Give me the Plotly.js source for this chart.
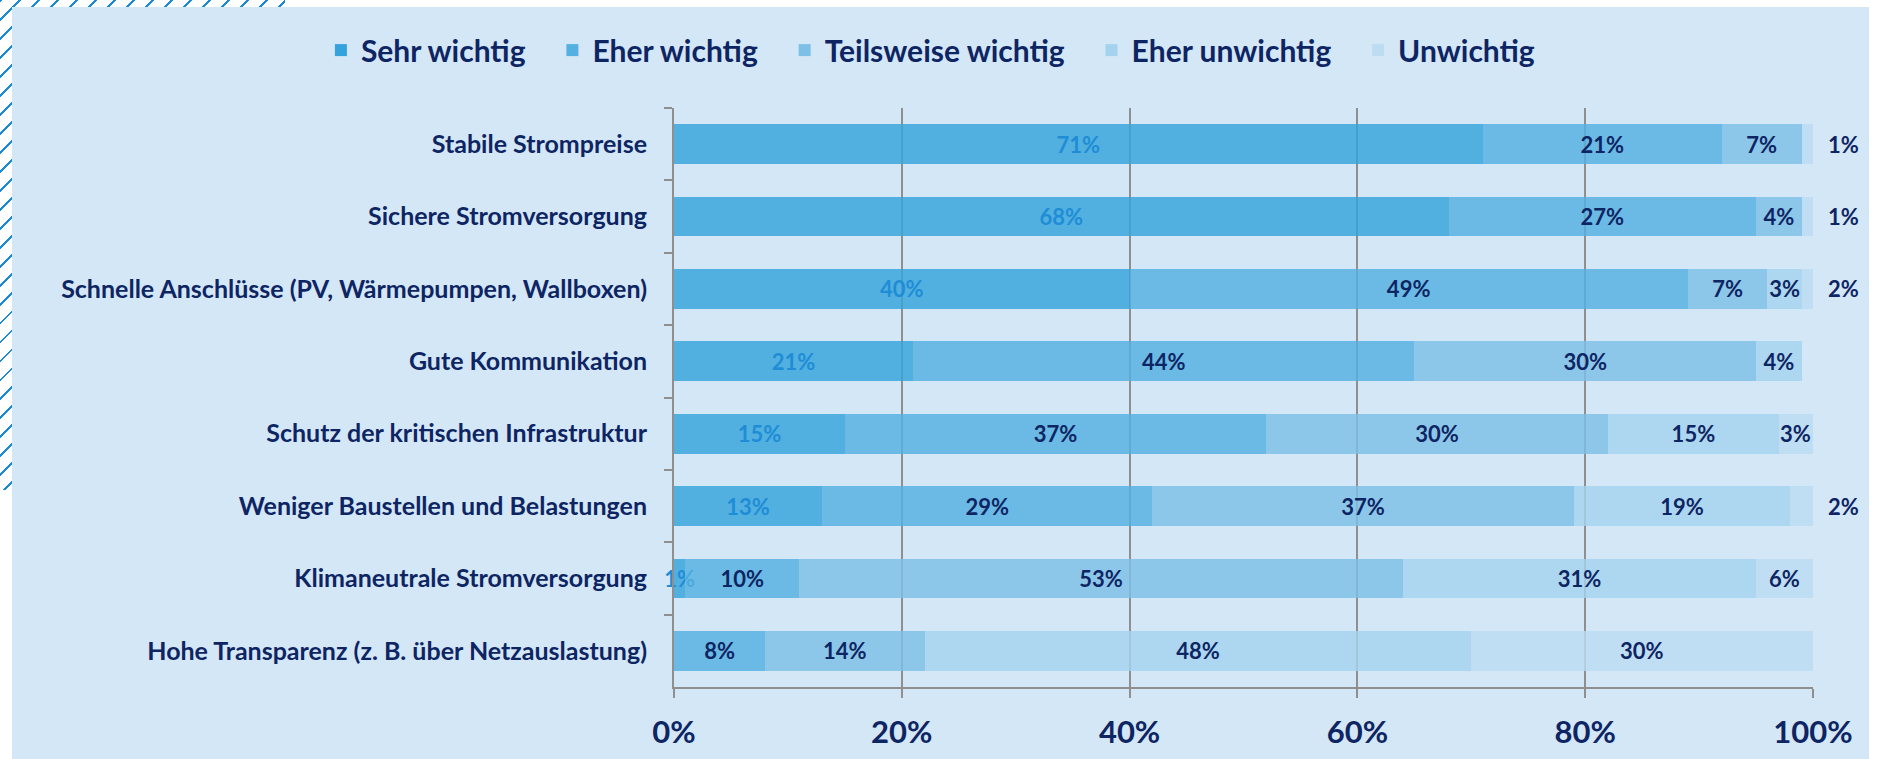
<!DOCTYPE html>
<html>
<head>
<meta charset="utf-8">
<script src="https://cdn.plot.ly/plotly-3.0.1.min.js"></script>
<style>
  html, body { margin: 0; padding: 0; background: #fff; }
  #hatch {
    position: absolute; left: 0; top: 0; width: 285px; height: 490px;
    background: repeating-linear-gradient(135deg, #1b8ad6 0px, #1b8ad6 2px, transparent 2px, transparent 13.4px);
  }
  #panel { position: absolute; left: 12px; top: 7px; width: 1857px; height: 752px; background: #d4e7f7; }
  #chart { position: absolute; left: 0; top: 0; width: 1880px; height: 759px; }
</style>
</head>
<body>
<div id="hatch"></div>
<div id="panel"></div>
<div id="chart"></div>
<script>
var categories = [
  "Stabile Strompreise",
  "Sichere Stromversorgung",
  "Schnelle Anschlüsse (PV, Wärmepumpen, Wallboxen)",
  "Gute Kommunikation",
  "Schutz der kritischen Infrastruktur",
  "Weniger Baustellen und Belastungen",
  "Klimaneutrale Stromversorgung",
  "Hohe Transparenz (z. B. über Netzauslastung)"
];
var seriesNames = ["Sehr wichtig", "Eher wichtig", "Teilsweise wichtig", "Eher unwichtig", "Unwichtig"];
var sehrWichtig   = [71, 68, 40, 21, 15, 13, 1, 0];
var eherWichtig   = [21, 27, 49, 44, 37, 29, 10, 8];
var teilweise     = [7, 4, 7, 30, 30, 37, 53, 14];
var eherUnwichtig = [0, 0, 3, 4, 15, 19, 31, 48];
var unwichtig     = [1, 1, 2, 0, 3, 2, 6, 30];
var xTicks = [0, 20, 40, 60, 80, 100];

var navy = "#0e2563";
var colors = ["#34a3db", "#54b0e0", "#7cc0e5", "#a5d3ee", "#bcdcf2"];
var labelColors = ["#1f8dd6", navy, navy, navy, navy];
var allSeries = [sehrWichtig, eherWichtig, teilweise, eherUnwichtig, unwichtig];
var font = "Lato, 'Open Sans', sans-serif";
var pad = "\u00a0\u00a0\u00a0";

var traces = allSeries.map(function (vals, s) {
  return {
    type: "bar",
    orientation: "h",
    name: seriesNames[s] + (s < 4 ? pad : ""),
    y: categories,
    x: vals,
    // the last series is labelled with annotations (rounded rows run past 100)
    text: vals.map(function (v) { return (v > 0 && s < 4) ? v + "%" : ""; }),
    textposition: "inside",
    insidetextanchor: "middle",
    constraintext: "none",
    textangle: 0,
    cliponaxis: false,
    textfont: { family: font, size: 22, color: labelColors[s], weight: 700 },
    marker: { color: colors[s], opacity: 0.82, line: { width: 0 } },
    hovertemplate: "%{y}: %{x}%<extra>" + seriesNames[s] + "</extra>"
  };
});

var annotations = [];
unwichtig.forEach(function (v, i) {
  if (v <= 0) return;
  var start = sehrWichtig[i] + eherWichtig[i] + teilweise[i] + eherUnwichtig[i];
  var end = Math.min(start + v, 100);
  var a = {
    yref: "y", y: categories[i], text: v + "%", showarrow: false, xanchor: "center",
    font: { family: font, size: 22, color: navy, weight: 700 }
  };
  if (v < 3) {
    // tiny slices: label sits right of the 100% line
    a.xref = "paper"; a.x = 1; a.xshift = 30;
  } else {
    a.xref = "x"; a.x = (start + end) / 2;
  }
  annotations.push(a);
});

var layout = {
  width: 1880,
  height: 759,
  barmode: "stack",
  bargap: 0.45,
  paper_bgcolor: "rgba(0,0,0,0)",
  plot_bgcolor: "rgba(0,0,0,0)",
  margin: { l: 674, r: 67, t: 108, b: 72 },
  font: { family: font, color: navy },
  showlegend: true,
  legend: {
    orientation: "h",
    xref: "paper", yref: "paper",
    x: -0.31, xanchor: "left", y: 1.1, yanchor: "middle",
    font: { family: font, size: 30, color: navy, weight: 700 },
    traceorder: "normal",
    bgcolor: "rgba(0,0,0,0)"
  },
  xaxis: {
    range: [0, 100],
    tickvals: xTicks,
    ticktext: xTicks.map(function (t) { return t + "%"; }),
    showgrid: true, gridcolor: "#8f8f8f", gridwidth: 2,
    showline: true, linecolor: "#8f8f8f", linewidth: 2,
    ticks: "outside", ticklen: 9, tickwidth: 2, tickcolor: "#8f8f8f",
    ticklabelstandoff: 8,
    tickfont: { family: font, size: 31, color: navy, weight: 700 },
    zeroline: false, fixedrange: true
  },
  yaxis: {
    type: "category",
    autorange: "reversed",
    showgrid: false,
    showline: true, linecolor: "#8f8f8f", linewidth: 2,
    ticks: "outside", tickson: "boundaries", ticklen: 8, tickwidth: 2, tickcolor: "#8f8f8f",
    ticklabelstandoff: 20,
    tickfont: { family: font, size: 25, color: navy, weight: 700 },
    fixedrange: true
  },
  annotations: annotations
};

Plotly.newPlot("chart", traces, layout, { displayModeBar: false });
</script>
</body>
</html>
